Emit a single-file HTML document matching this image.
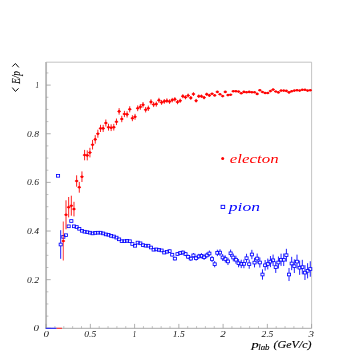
<!DOCTYPE html>
<html><head><meta charset="utf-8"><title>E/p</title>
<style>
html,body{margin:0;padding:0;background:#fff;}
svg{display:block;font-family:"Liberation Serif",serif;font-style:italic;}
</style></head>
<body>
<svg width="354" height="354" viewBox="0 0 354 354">
<rect width="354" height="354" fill="#fff"/>
<g opacity="0.99">
<!-- frame -->
<path d="M46.1 62.2H311.6V328.3" fill="none" stroke="#b4b4b4" stroke-width="0.8"/>
<path d="M46.1 328.3H311.6" fill="none" stroke="#a8a8a8" stroke-width="1"/>
<path d="M46.1 61.900000000000006V328.7" fill="none" stroke="#b8b8b8" stroke-width="1.9"/>
<path d="M46.10 328.30h4.6" stroke="#9a9a9a" stroke-width="0.8"/>
<path d="M46.10 316.14h2.3" stroke="#9a9a9a" stroke-width="0.6"/>
<path d="M46.10 303.98h2.3" stroke="#9a9a9a" stroke-width="0.6"/>
<path d="M46.10 291.82h2.3" stroke="#9a9a9a" stroke-width="0.6"/>
<path d="M46.10 279.66h4.6" stroke="#9a9a9a" stroke-width="0.8"/>
<path d="M46.10 267.50h2.3" stroke="#9a9a9a" stroke-width="0.6"/>
<path d="M46.10 255.34h2.3" stroke="#9a9a9a" stroke-width="0.6"/>
<path d="M46.10 243.18h2.3" stroke="#9a9a9a" stroke-width="0.6"/>
<path d="M46.10 231.02h4.6" stroke="#9a9a9a" stroke-width="0.8"/>
<path d="M46.10 218.86h2.3" stroke="#9a9a9a" stroke-width="0.6"/>
<path d="M46.10 206.70h2.3" stroke="#9a9a9a" stroke-width="0.6"/>
<path d="M46.10 194.54h2.3" stroke="#9a9a9a" stroke-width="0.6"/>
<path d="M46.10 182.38h4.6" stroke="#9a9a9a" stroke-width="0.8"/>
<path d="M46.10 170.22h2.3" stroke="#9a9a9a" stroke-width="0.6"/>
<path d="M46.10 158.06h2.3" stroke="#9a9a9a" stroke-width="0.6"/>
<path d="M46.10 145.90h2.3" stroke="#9a9a9a" stroke-width="0.6"/>
<path d="M46.10 133.74h4.6" stroke="#9a9a9a" stroke-width="0.8"/>
<path d="M46.10 121.58h2.3" stroke="#9a9a9a" stroke-width="0.6"/>
<path d="M46.10 109.42h2.3" stroke="#9a9a9a" stroke-width="0.6"/>
<path d="M46.10 97.26h2.3" stroke="#9a9a9a" stroke-width="0.6"/>
<path d="M46.10 85.10h4.6" stroke="#9a9a9a" stroke-width="0.8"/>
<path d="M46.10 72.94h2.3" stroke="#9a9a9a" stroke-width="0.6"/>
<path d="M46.10 328.30v-4.4" stroke="#9a9a9a" stroke-width="0.8"/>
<path d="M54.95 328.30v-2.2" stroke="#9a9a9a" stroke-width="0.6"/>
<path d="M63.80 328.30v-2.2" stroke="#9a9a9a" stroke-width="0.6"/>
<path d="M72.65 328.30v-2.2" stroke="#9a9a9a" stroke-width="0.6"/>
<path d="M81.50 328.30v-2.2" stroke="#9a9a9a" stroke-width="0.6"/>
<path d="M90.35 328.30v-4.4" stroke="#9a9a9a" stroke-width="0.8"/>
<path d="M99.20 328.30v-2.2" stroke="#9a9a9a" stroke-width="0.6"/>
<path d="M108.05 328.30v-2.2" stroke="#9a9a9a" stroke-width="0.6"/>
<path d="M116.90 328.30v-2.2" stroke="#9a9a9a" stroke-width="0.6"/>
<path d="M125.75 328.30v-2.2" stroke="#9a9a9a" stroke-width="0.6"/>
<path d="M134.60 328.30v-4.4" stroke="#9a9a9a" stroke-width="0.8"/>
<path d="M143.45 328.30v-2.2" stroke="#9a9a9a" stroke-width="0.6"/>
<path d="M152.30 328.30v-2.2" stroke="#9a9a9a" stroke-width="0.6"/>
<path d="M161.15 328.30v-2.2" stroke="#9a9a9a" stroke-width="0.6"/>
<path d="M170.00 328.30v-2.2" stroke="#9a9a9a" stroke-width="0.6"/>
<path d="M178.85 328.30v-4.4" stroke="#9a9a9a" stroke-width="0.8"/>
<path d="M187.70 328.30v-2.2" stroke="#9a9a9a" stroke-width="0.6"/>
<path d="M196.55 328.30v-2.2" stroke="#9a9a9a" stroke-width="0.6"/>
<path d="M205.40 328.30v-2.2" stroke="#9a9a9a" stroke-width="0.6"/>
<path d="M214.25 328.30v-2.2" stroke="#9a9a9a" stroke-width="0.6"/>
<path d="M223.10 328.30v-4.4" stroke="#9a9a9a" stroke-width="0.8"/>
<path d="M231.95 328.30v-2.2" stroke="#9a9a9a" stroke-width="0.6"/>
<path d="M240.80 328.30v-2.2" stroke="#9a9a9a" stroke-width="0.6"/>
<path d="M249.65 328.30v-2.2" stroke="#9a9a9a" stroke-width="0.6"/>
<path d="M258.50 328.30v-2.2" stroke="#9a9a9a" stroke-width="0.6"/>
<path d="M267.35 328.30v-4.4" stroke="#9a9a9a" stroke-width="0.8"/>
<path d="M276.20 328.30v-2.2" stroke="#9a9a9a" stroke-width="0.6"/>
<path d="M285.05 328.30v-2.2" stroke="#9a9a9a" stroke-width="0.6"/>
<path d="M293.90 328.30v-2.2" stroke="#9a9a9a" stroke-width="0.6"/>
<path d="M302.75 328.30v-2.2" stroke="#9a9a9a" stroke-width="0.6"/>
<path d="M311.60 328.30v-4.4" stroke="#9a9a9a" stroke-width="0.8"/>
<path d="M45.7 328.3H56.6" stroke="#2222ff" stroke-width="1.1"/>
<path d="M56.6 328.3H62" stroke="#ff3030" stroke-width="1.1"/>
<text x="33.5" y="331.3" font-size="7.6" text-anchor="start" fill="#111" textLength="5.5" lengthAdjust="spacingAndGlyphs" >0</text>
<text x="27.0" y="282.7" font-size="7.6" text-anchor="start" fill="#111" textLength="12" lengthAdjust="spacingAndGlyphs" >0.2</text>
<text x="27.0" y="234.0" font-size="7.6" text-anchor="start" fill="#111" textLength="12" lengthAdjust="spacingAndGlyphs" >0.4</text>
<text x="27.0" y="185.4" font-size="7.6" text-anchor="start" fill="#111" textLength="12" lengthAdjust="spacingAndGlyphs" >0.6</text>
<text x="27.0" y="136.7" font-size="7.6" text-anchor="start" fill="#111" textLength="12" lengthAdjust="spacingAndGlyphs" >0.8</text>
<text x="35.5" y="88.1" font-size="7.6" text-anchor="start" fill="#111" textLength="3.5" lengthAdjust="spacingAndGlyphs" >1</text>
<text x="43.4" y="336.6" font-size="7.6" text-anchor="start" fill="#111" textLength="5.5" lengthAdjust="spacingAndGlyphs" >0</text>
<text x="84.3" y="336.6" font-size="7.6" text-anchor="start" fill="#111" textLength="12" lengthAdjust="spacingAndGlyphs" >0.5</text>
<text x="132.8" y="336.6" font-size="7.6" text-anchor="start" fill="#111" textLength="3.5" lengthAdjust="spacingAndGlyphs" >1</text>
<text x="172.8" y="336.6" font-size="7.6" text-anchor="start" fill="#111" textLength="12" lengthAdjust="spacingAndGlyphs" >1.5</text>
<text x="220.3" y="336.6" font-size="7.6" text-anchor="start" fill="#111" textLength="5.5" lengthAdjust="spacingAndGlyphs" >2</text>
<text x="261.4" y="336.6" font-size="7.6" text-anchor="start" fill="#111" textLength="12" lengthAdjust="spacingAndGlyphs" >2.5</text>
<text x="308.4" y="336.6" font-size="7.6" text-anchor="start" fill="#111" textLength="5.5" lengthAdjust="spacingAndGlyphs" >3</text>
<!-- titles -->
<text style="filter:grayscale(1)" transform="translate(19.6,84) rotate(-90)" font-size="11.7" fill="#000" stroke="#000" stroke-width="0.1" textLength="13" lengthAdjust="spacingAndGlyphs">E/p</text>
<path d="M12.3 66.6L15.4 63.5L18.8 67.4" fill="none" stroke="#000" stroke-width="1.0"/>
<path d="M12.3 87.6L15.4 91.4L18.6 88.4" fill="none" stroke="#000" stroke-width="1.0"/>
<text x="251.5" y="348.4" font-size="10.5" fill="#000" stroke="#000" stroke-width="0.15" textLength="7.2" lengthAdjust="spacingAndGlyphs">p</text>
<text x="258.2" y="350.4" font-size="7.2" fill="#000" stroke="#000" stroke-width="0.12" textLength="11.3" lengthAdjust="spacingAndGlyphs">lab</text>
<text x="273.6" y="348.4" font-size="10.5" fill="#000" stroke="#000" stroke-width="0.15" textLength="38" lengthAdjust="spacingAndGlyphs">(GeV/c)</text>
<!-- data -->
<rect x="56.50" y="174.45" width="3.10" height="2.70" fill="none" stroke="#0000ff" stroke-width="0.85"/>
<path d="M60.70 230.20V243.15M60.70 245.85V258.80" stroke="#0000ff" stroke-width="0.9" fill="none"/>
<rect x="59.15" y="243.15" width="3.10" height="2.70" fill="none" stroke="#0000ff" stroke-width="0.85"/>
<rect x="61.81" y="235.55" width="3.10" height="2.70" fill="none" stroke="#0000ff" stroke-width="0.85"/>
<rect x="64.46" y="233.85" width="3.10" height="2.70" fill="none" stroke="#0000ff" stroke-width="0.85"/>
<rect x="67.12" y="224.95" width="3.10" height="2.70" fill="none" stroke="#0000ff" stroke-width="0.85"/>
<rect x="69.77" y="219.65" width="3.10" height="2.70" fill="none" stroke="#0000ff" stroke-width="0.85"/>
<rect x="72.43" y="224.95" width="3.10" height="2.70" fill="none" stroke="#0000ff" stroke-width="0.85"/>
<rect x="75.08" y="225.65" width="3.10" height="2.70" fill="none" stroke="#0000ff" stroke-width="0.85"/>
<rect x="77.74" y="227.45" width="3.10" height="2.70" fill="none" stroke="#0000ff" stroke-width="0.85"/>
<rect x="80.39" y="229.45" width="3.10" height="2.70" fill="none" stroke="#0000ff" stroke-width="0.85"/>
<rect x="83.05" y="230.35" width="3.10" height="2.70" fill="none" stroke="#0000ff" stroke-width="0.85"/>
<rect x="85.70" y="230.85" width="3.10" height="2.70" fill="none" stroke="#0000ff" stroke-width="0.85"/>
<rect x="88.36" y="231.35" width="3.10" height="2.70" fill="none" stroke="#0000ff" stroke-width="0.85"/>
<rect x="91.01" y="232.05" width="3.10" height="2.70" fill="none" stroke="#0000ff" stroke-width="0.85"/>
<rect x="93.67" y="231.55" width="3.10" height="2.70" fill="none" stroke="#0000ff" stroke-width="0.85"/>
<rect x="96.32" y="231.35" width="3.10" height="2.70" fill="none" stroke="#0000ff" stroke-width="0.85"/>
<rect x="98.98" y="231.35" width="3.10" height="2.70" fill="none" stroke="#0000ff" stroke-width="0.85"/>
<rect x="101.63" y="232.05" width="3.10" height="2.70" fill="none" stroke="#0000ff" stroke-width="0.85"/>
<rect x="104.29" y="233.05" width="3.10" height="2.70" fill="none" stroke="#0000ff" stroke-width="0.85"/>
<rect x="106.94" y="233.45" width="3.10" height="2.70" fill="none" stroke="#0000ff" stroke-width="0.85"/>
<rect x="109.60" y="234.55" width="3.10" height="2.70" fill="none" stroke="#0000ff" stroke-width="0.85"/>
<rect x="112.25" y="235.15" width="3.10" height="2.70" fill="none" stroke="#0000ff" stroke-width="0.85"/>
<rect x="114.91" y="236.25" width="3.10" height="2.70" fill="none" stroke="#0000ff" stroke-width="0.85"/>
<rect x="117.56" y="237.95" width="3.10" height="2.70" fill="none" stroke="#0000ff" stroke-width="0.85"/>
<rect x="120.22" y="239.85" width="3.10" height="2.70" fill="none" stroke="#0000ff" stroke-width="0.85"/>
<rect x="122.87" y="239.85" width="3.10" height="2.70" fill="none" stroke="#0000ff" stroke-width="0.85"/>
<rect x="125.53" y="239.55" width="3.10" height="2.70" fill="none" stroke="#0000ff" stroke-width="0.85"/>
<rect x="128.18" y="239.85" width="3.10" height="2.70" fill="none" stroke="#0000ff" stroke-width="0.85"/>
<rect x="130.84" y="242.65" width="3.10" height="2.70" fill="none" stroke="#0000ff" stroke-width="0.85"/>
<rect x="133.49" y="244.45" width="3.10" height="2.70" fill="none" stroke="#0000ff" stroke-width="0.85"/>
<rect x="136.15" y="241.25" width="3.10" height="2.70" fill="none" stroke="#0000ff" stroke-width="0.85"/>
<rect x="138.80" y="241.95" width="3.10" height="2.70" fill="none" stroke="#0000ff" stroke-width="0.85"/>
<rect x="141.46" y="243.75" width="3.10" height="2.70" fill="none" stroke="#0000ff" stroke-width="0.85"/>
<rect x="144.11" y="244.35" width="3.10" height="2.70" fill="none" stroke="#0000ff" stroke-width="0.85"/>
<rect x="146.77" y="244.35" width="3.10" height="2.70" fill="none" stroke="#0000ff" stroke-width="0.85"/>
<rect x="149.42" y="246.15" width="3.10" height="2.70" fill="none" stroke="#0000ff" stroke-width="0.85"/>
<rect x="152.08" y="248.35" width="3.10" height="2.70" fill="none" stroke="#0000ff" stroke-width="0.85"/>
<rect x="154.73" y="248.05" width="3.10" height="2.70" fill="none" stroke="#0000ff" stroke-width="0.85"/>
<rect x="157.39" y="248.55" width="3.10" height="2.70" fill="none" stroke="#0000ff" stroke-width="0.85"/>
<rect x="160.04" y="249.05" width="3.10" height="2.70" fill="none" stroke="#0000ff" stroke-width="0.85"/>
<rect x="162.70" y="251.25" width="3.10" height="2.70" fill="none" stroke="#0000ff" stroke-width="0.85"/>
<rect x="165.35" y="250.45" width="3.10" height="2.70" fill="none" stroke="#0000ff" stroke-width="0.85"/>
<path d="M169.56 249.43V249.75M169.56 252.45V252.77" stroke="#0000ff" stroke-width="0.9" fill="none"/>
<rect x="168.01" y="249.75" width="3.10" height="2.70" fill="none" stroke="#0000ff" stroke-width="0.85"/>
<path d="M172.21 252.95V253.35M172.21 256.05V256.45" stroke="#0000ff" stroke-width="0.9" fill="none"/>
<rect x="170.66" y="253.35" width="3.10" height="2.70" fill="none" stroke="#0000ff" stroke-width="0.85"/>
<path d="M174.87 256.78V257.25M174.87 259.95V260.42" stroke="#0000ff" stroke-width="0.9" fill="none"/>
<rect x="173.32" y="257.25" width="3.10" height="2.70" fill="none" stroke="#0000ff" stroke-width="0.85"/>
<path d="M177.52 252.10V252.65M177.52 255.35V255.90" stroke="#0000ff" stroke-width="0.9" fill="none"/>
<rect x="175.97" y="252.65" width="3.10" height="2.70" fill="none" stroke="#0000ff" stroke-width="0.85"/>
<path d="M180.18 251.03V251.65M180.18 254.35V254.97" stroke="#0000ff" stroke-width="0.9" fill="none"/>
<rect x="178.63" y="251.65" width="3.10" height="2.70" fill="none" stroke="#0000ff" stroke-width="0.85"/>
<path d="M182.83 250.45V251.15M182.83 253.85V254.55" stroke="#0000ff" stroke-width="0.9" fill="none"/>
<rect x="181.28" y="251.15" width="3.10" height="2.70" fill="none" stroke="#0000ff" stroke-width="0.85"/>
<path d="M185.49 251.86V252.65M185.49 255.35V256.14" stroke="#0000ff" stroke-width="0.9" fill="none"/>
<rect x="183.94" y="252.65" width="3.10" height="2.70" fill="none" stroke="#0000ff" stroke-width="0.85"/>
<path d="M188.14 254.58V255.45M188.14 258.15V259.02" stroke="#0000ff" stroke-width="0.9" fill="none"/>
<rect x="186.59" y="255.45" width="3.10" height="2.70" fill="none" stroke="#0000ff" stroke-width="0.85"/>
<path d="M190.80 256.30V257.25M190.80 259.95V260.90" stroke="#0000ff" stroke-width="0.9" fill="none"/>
<rect x="189.25" y="257.25" width="3.10" height="2.70" fill="none" stroke="#0000ff" stroke-width="0.85"/>
<path d="M193.45 253.01V254.05M193.45 256.75V257.79" stroke="#0000ff" stroke-width="0.9" fill="none"/>
<rect x="191.90" y="254.05" width="3.10" height="2.70" fill="none" stroke="#0000ff" stroke-width="0.85"/>
<path d="M196.11 255.72V256.85M196.11 259.55V260.68" stroke="#0000ff" stroke-width="0.9" fill="none"/>
<rect x="194.56" y="256.85" width="3.10" height="2.70" fill="none" stroke="#0000ff" stroke-width="0.85"/>
<path d="M198.76 253.83V255.05M198.76 257.75V258.97" stroke="#0000ff" stroke-width="0.9" fill="none"/>
<rect x="197.21" y="255.05" width="3.10" height="2.70" fill="none" stroke="#0000ff" stroke-width="0.85"/>
<path d="M201.42 253.14V254.45M201.42 257.15V258.46" stroke="#0000ff" stroke-width="0.9" fill="none"/>
<rect x="199.87" y="254.45" width="3.10" height="2.70" fill="none" stroke="#0000ff" stroke-width="0.85"/>
<path d="M204.07 254.45V255.85M204.07 258.55V259.95" stroke="#0000ff" stroke-width="0.9" fill="none"/>
<rect x="202.52" y="255.85" width="3.10" height="2.70" fill="none" stroke="#0000ff" stroke-width="0.85"/>
<path d="M206.73 252.56V254.05M206.73 256.75V258.24" stroke="#0000ff" stroke-width="0.9" fill="none"/>
<rect x="205.18" y="254.05" width="3.10" height="2.70" fill="none" stroke="#0000ff" stroke-width="0.85"/>
<path d="M209.38 250.56V252.15M209.38 254.85V256.44" stroke="#0000ff" stroke-width="0.9" fill="none"/>
<rect x="207.83" y="252.15" width="3.10" height="2.70" fill="none" stroke="#0000ff" stroke-width="0.85"/>
<path d="M212.04 255.96V257.65M212.04 260.35V262.04" stroke="#0000ff" stroke-width="0.9" fill="none"/>
<rect x="210.49" y="257.65" width="3.10" height="2.70" fill="none" stroke="#0000ff" stroke-width="0.85"/>
<path d="M214.69 261.06V262.85M214.69 265.55V267.34" stroke="#0000ff" stroke-width="0.9" fill="none"/>
<rect x="213.14" y="262.85" width="3.10" height="2.70" fill="none" stroke="#0000ff" stroke-width="0.85"/>
<path d="M217.35 249.66V251.55M217.35 254.25V256.14" stroke="#0000ff" stroke-width="0.9" fill="none"/>
<rect x="215.80" y="251.55" width="3.10" height="2.70" fill="none" stroke="#0000ff" stroke-width="0.85"/>
<path d="M220.00 249.26V251.25M220.00 253.95V255.94" stroke="#0000ff" stroke-width="0.9" fill="none"/>
<rect x="218.45" y="251.25" width="3.10" height="2.70" fill="none" stroke="#0000ff" stroke-width="0.85"/>
<path d="M222.66 254.06V256.15M222.66 258.85V260.94" stroke="#0000ff" stroke-width="0.9" fill="none"/>
<rect x="221.11" y="256.15" width="3.10" height="2.70" fill="none" stroke="#0000ff" stroke-width="0.85"/>
<path d="M225.31 255.45V257.65M225.31 260.35V262.55" stroke="#0000ff" stroke-width="0.9" fill="none"/>
<rect x="223.76" y="257.65" width="3.10" height="2.70" fill="none" stroke="#0000ff" stroke-width="0.85"/>
<path d="M227.97 257.75V260.05M227.97 262.75V265.05" stroke="#0000ff" stroke-width="0.9" fill="none"/>
<rect x="226.42" y="260.05" width="3.10" height="2.70" fill="none" stroke="#0000ff" stroke-width="0.85"/>
<path d="M230.62 249.54V251.95M230.62 254.65V257.06" stroke="#0000ff" stroke-width="0.9" fill="none"/>
<rect x="229.07" y="251.95" width="3.10" height="2.70" fill="none" stroke="#0000ff" stroke-width="0.85"/>
<path d="M233.28 253.63V256.15M233.28 258.85V261.37" stroke="#0000ff" stroke-width="0.9" fill="none"/>
<rect x="231.73" y="256.15" width="3.10" height="2.70" fill="none" stroke="#0000ff" stroke-width="0.85"/>
<path d="M235.93 255.72V258.35M235.93 261.05V263.68" stroke="#0000ff" stroke-width="0.9" fill="none"/>
<rect x="234.38" y="258.35" width="3.10" height="2.70" fill="none" stroke="#0000ff" stroke-width="0.85"/>
<path d="M238.59 259.10V261.85M238.59 264.55V267.30" stroke="#0000ff" stroke-width="0.9" fill="none"/>
<rect x="237.04" y="261.85" width="3.10" height="2.70" fill="none" stroke="#0000ff" stroke-width="0.85"/>
<path d="M241.24 259.69V262.55M241.24 265.25V268.11" stroke="#0000ff" stroke-width="0.9" fill="none"/>
<rect x="239.69" y="262.55" width="3.10" height="2.70" fill="none" stroke="#0000ff" stroke-width="0.85"/>
<path d="M243.90 259.57V262.55M243.90 265.25V268.23" stroke="#0000ff" stroke-width="0.9" fill="none"/>
<rect x="242.35" y="262.55" width="3.10" height="2.70" fill="none" stroke="#0000ff" stroke-width="0.85"/>
<path d="M246.55 253.76V256.85M246.55 259.55V262.64" stroke="#0000ff" stroke-width="0.9" fill="none"/>
<rect x="245.00" y="256.85" width="3.10" height="2.70" fill="none" stroke="#0000ff" stroke-width="0.85"/>
<path d="M249.21 259.64V262.85M249.21 265.55V268.76" stroke="#0000ff" stroke-width="0.9" fill="none"/>
<rect x="247.66" y="262.85" width="3.10" height="2.70" fill="none" stroke="#0000ff" stroke-width="0.85"/>
<path d="M251.86 249.82V253.15M251.86 255.85V259.18" stroke="#0000ff" stroke-width="0.9" fill="none"/>
<rect x="250.31" y="253.15" width="3.10" height="2.70" fill="none" stroke="#0000ff" stroke-width="0.85"/>
<path d="M254.52 257.79V261.25M254.52 263.95V267.41" stroke="#0000ff" stroke-width="0.9" fill="none"/>
<rect x="252.97" y="261.25" width="3.10" height="2.70" fill="none" stroke="#0000ff" stroke-width="0.85"/>
<path d="M257.17 253.57V257.15M257.17 259.85V263.43" stroke="#0000ff" stroke-width="0.9" fill="none"/>
<rect x="255.62" y="257.15" width="3.10" height="2.70" fill="none" stroke="#0000ff" stroke-width="0.85"/>
<path d="M259.83 257.44V261.15M259.83 263.85V267.56" stroke="#0000ff" stroke-width="0.9" fill="none"/>
<rect x="258.28" y="261.15" width="3.10" height="2.70" fill="none" stroke="#0000ff" stroke-width="0.85"/>
<path d="M262.48 269.32V273.15M262.48 275.85V279.68" stroke="#0000ff" stroke-width="0.9" fill="none"/>
<rect x="260.93" y="273.15" width="3.10" height="2.70" fill="none" stroke="#0000ff" stroke-width="0.85"/>
<path d="M265.14 259.99V263.95M265.14 266.65V270.61" stroke="#0000ff" stroke-width="0.9" fill="none"/>
<rect x="263.59" y="263.95" width="3.10" height="2.70" fill="none" stroke="#0000ff" stroke-width="0.85"/>
<path d="M267.79 258.56V262.65M267.79 265.35V269.44" stroke="#0000ff" stroke-width="0.9" fill="none"/>
<rect x="266.24" y="262.65" width="3.10" height="2.70" fill="none" stroke="#0000ff" stroke-width="0.85"/>
<path d="M270.45 256.03V260.25M270.45 262.95V267.17" stroke="#0000ff" stroke-width="0.9" fill="none"/>
<rect x="268.90" y="260.25" width="3.10" height="2.70" fill="none" stroke="#0000ff" stroke-width="0.85"/>
<path d="M273.10 254.59V258.95M273.10 261.65V266.01" stroke="#0000ff" stroke-width="0.9" fill="none"/>
<rect x="271.55" y="258.95" width="3.10" height="2.70" fill="none" stroke="#0000ff" stroke-width="0.85"/>
<path d="M275.76 261.26V265.75M275.76 268.45V272.94" stroke="#0000ff" stroke-width="0.9" fill="none"/>
<rect x="274.21" y="265.75" width="3.10" height="2.70" fill="none" stroke="#0000ff" stroke-width="0.85"/>
<path d="M278.41 256.52V261.15M278.41 263.85V268.48" stroke="#0000ff" stroke-width="0.9" fill="none"/>
<rect x="276.86" y="261.15" width="3.10" height="2.70" fill="none" stroke="#0000ff" stroke-width="0.85"/>
<path d="M281.07 253.68V258.45M281.07 261.15V265.92" stroke="#0000ff" stroke-width="0.9" fill="none"/>
<rect x="279.52" y="258.45" width="3.10" height="2.70" fill="none" stroke="#0000ff" stroke-width="0.85"/>
<path d="M283.72 253.54V258.45M283.72 261.15V266.06" stroke="#0000ff" stroke-width="0.9" fill="none"/>
<rect x="282.17" y="258.45" width="3.10" height="2.70" fill="none" stroke="#0000ff" stroke-width="0.85"/>
<path d="M286.38 248.80V253.85M286.38 256.55V261.60" stroke="#0000ff" stroke-width="0.9" fill="none"/>
<rect x="284.83" y="253.85" width="3.10" height="2.70" fill="none" stroke="#0000ff" stroke-width="0.85"/>
<path d="M289.03 267.96V273.15M289.03 275.85V281.04" stroke="#0000ff" stroke-width="0.9" fill="none"/>
<rect x="287.48" y="273.15" width="3.10" height="2.70" fill="none" stroke="#0000ff" stroke-width="0.85"/>
<path d="M291.69 256.81V262.15M291.69 264.85V270.19" stroke="#0000ff" stroke-width="0.9" fill="none"/>
<rect x="290.14" y="262.15" width="3.10" height="2.70" fill="none" stroke="#0000ff" stroke-width="0.85"/>
<path d="M294.34 259.37V264.85M294.34 267.55V273.03" stroke="#0000ff" stroke-width="0.9" fill="none"/>
<rect x="292.79" y="264.85" width="3.10" height="2.70" fill="none" stroke="#0000ff" stroke-width="0.85"/>
<path d="M297.00 254.62V260.25M297.00 262.95V268.58" stroke="#0000ff" stroke-width="0.9" fill="none"/>
<rect x="295.45" y="260.25" width="3.10" height="2.70" fill="none" stroke="#0000ff" stroke-width="0.85"/>
<path d="M299.65 260.57V266.35M299.65 269.05V274.83" stroke="#0000ff" stroke-width="0.9" fill="none"/>
<rect x="298.10" y="266.35" width="3.10" height="2.70" fill="none" stroke="#0000ff" stroke-width="0.85"/>
<path d="M302.31 259.82V265.75M302.31 268.45V274.38" stroke="#0000ff" stroke-width="0.9" fill="none"/>
<rect x="300.76" y="265.75" width="3.10" height="2.70" fill="none" stroke="#0000ff" stroke-width="0.85"/>
<path d="M304.96 265.17V271.25M304.96 273.95V280.03" stroke="#0000ff" stroke-width="0.9" fill="none"/>
<rect x="303.41" y="271.25" width="3.10" height="2.70" fill="none" stroke="#0000ff" stroke-width="0.85"/>
<path d="M307.62 263.21V269.45M307.62 272.15V278.39" stroke="#0000ff" stroke-width="0.9" fill="none"/>
<rect x="306.07" y="269.45" width="3.10" height="2.70" fill="none" stroke="#0000ff" stroke-width="0.85"/>
<path d="M310.27 261.26V267.65M310.27 270.35V276.74" stroke="#0000ff" stroke-width="0.9" fill="none"/>
<rect x="308.72" y="267.65" width="3.10" height="2.70" fill="none" stroke="#0000ff" stroke-width="0.85"/>
<path d="M63.36 221.50V260.50" stroke="#ff0000" stroke-width="1.3" opacity="0.6" fill="none"/>
<path d="M61.61 241.00H65.11" stroke="#ff0000" stroke-width="0.9"/>
<circle cx="63.36" cy="241.00" r="1.3" fill="#ff0000"/>
<path d="M66.01 200.30V229.30" stroke="#ff0000" stroke-width="0.9" fill="none"/>
<path d="M64.26 214.80H67.76" stroke="#ff0000" stroke-width="0.9"/>
<circle cx="66.01" cy="214.80" r="1.3" fill="#ff0000"/>
<path d="M68.67 197.00V217.40" stroke="#ff0000" stroke-width="0.9" fill="none"/>
<path d="M66.92 207.20H70.42" stroke="#ff0000" stroke-width="0.9"/>
<circle cx="68.67" cy="207.20" r="1.3" fill="#ff0000"/>
<path d="M71.32 195.70V215.70" stroke="#ff0000" stroke-width="0.9" fill="none"/>
<path d="M69.57 205.70H73.07" stroke="#ff0000" stroke-width="0.9"/>
<circle cx="71.32" cy="205.70" r="1.3" fill="#ff0000"/>
<path d="M73.98 201.80V216.40" stroke="#ff0000" stroke-width="0.9" fill="none"/>
<path d="M72.23 209.10H75.73" stroke="#ff0000" stroke-width="0.9"/>
<circle cx="73.98" cy="209.10" r="1.3" fill="#ff0000"/>
<path d="M76.63 175.30V186.70" stroke="#ff0000" stroke-width="0.9" fill="none"/>
<path d="M74.88 181.00H78.38" stroke="#ff0000" stroke-width="0.9"/>
<circle cx="76.63" cy="181.00" r="1.3" fill="#ff0000"/>
<path d="M79.29 181.90V192.70" stroke="#ff0000" stroke-width="0.9" fill="none"/>
<path d="M77.54 187.30H81.04" stroke="#ff0000" stroke-width="0.9"/>
<circle cx="79.29" cy="187.30" r="1.3" fill="#ff0000"/>
<path d="M81.94 171.40V182.00" stroke="#ff0000" stroke-width="0.9" fill="none"/>
<path d="M80.19 176.70H83.69" stroke="#ff0000" stroke-width="0.9"/>
<circle cx="81.94" cy="176.70" r="1.3" fill="#ff0000"/>
<path d="M84.60 149.90V160.30" stroke="#ff0000" stroke-width="0.9" fill="none"/>
<path d="M82.85 155.10H86.35" stroke="#ff0000" stroke-width="0.9"/>
<circle cx="84.60" cy="155.10" r="1.3" fill="#ff0000"/>
<path d="M87.25 150.40V160.40" stroke="#ff0000" stroke-width="0.9" fill="none"/>
<path d="M85.50 155.40H89.00" stroke="#ff0000" stroke-width="0.9"/>
<circle cx="87.25" cy="155.40" r="1.3" fill="#ff0000"/>
<path d="M89.91 147.80V157.40" stroke="#ff0000" stroke-width="0.9" fill="none"/>
<path d="M88.16 152.60H91.66" stroke="#ff0000" stroke-width="0.9"/>
<circle cx="89.91" cy="152.60" r="1.3" fill="#ff0000"/>
<path d="M92.56 139.90V149.50" stroke="#ff0000" stroke-width="0.9" fill="none"/>
<path d="M90.81 144.70H94.31" stroke="#ff0000" stroke-width="0.9"/>
<circle cx="92.56" cy="144.70" r="1.3" fill="#ff0000"/>
<path d="M95.22 135.10V143.70" stroke="#ff0000" stroke-width="0.9" fill="none"/>
<path d="M93.47 139.40H96.97" stroke="#ff0000" stroke-width="0.9"/>
<circle cx="95.22" cy="139.40" r="1.3" fill="#ff0000"/>
<path d="M97.87 129.70V137.70" stroke="#ff0000" stroke-width="0.9" fill="none"/>
<path d="M96.12 133.70H99.62" stroke="#ff0000" stroke-width="0.9"/>
<circle cx="97.87" cy="133.70" r="1.3" fill="#ff0000"/>
<path d="M100.53 124.80V132.00" stroke="#ff0000" stroke-width="0.9" fill="none"/>
<path d="M98.78 128.40H102.28" stroke="#ff0000" stroke-width="0.9"/>
<circle cx="100.53" cy="128.40" r="1.3" fill="#ff0000"/>
<path d="M103.18 124.85V131.95" stroke="#ff0000" stroke-width="0.9" fill="none"/>
<path d="M101.43 128.40H104.93" stroke="#ff0000" stroke-width="0.9"/>
<circle cx="103.18" cy="128.40" r="1.3" fill="#ff0000"/>
<path d="M105.84 119.50V126.50" stroke="#ff0000" stroke-width="0.9" fill="none"/>
<path d="M104.09 123.00H107.59" stroke="#ff0000" stroke-width="0.9"/>
<circle cx="105.84" cy="123.00" r="1.3" fill="#ff0000"/>
<path d="M108.49 123.75V130.65" stroke="#ff0000" stroke-width="0.9" fill="none"/>
<path d="M106.74 127.20H110.24" stroke="#ff0000" stroke-width="0.9"/>
<circle cx="108.49" cy="127.20" r="1.3" fill="#ff0000"/>
<path d="M111.15 124.30V131.10" stroke="#ff0000" stroke-width="0.9" fill="none"/>
<path d="M109.40 127.70H112.90" stroke="#ff0000" stroke-width="0.9"/>
<circle cx="111.15" cy="127.70" r="1.3" fill="#ff0000"/>
<path d="M113.80 123.85V130.55" stroke="#ff0000" stroke-width="0.9" fill="none"/>
<path d="M112.05 127.20H115.55" stroke="#ff0000" stroke-width="0.9"/>
<circle cx="113.80" cy="127.20" r="1.3" fill="#ff0000"/>
<path d="M116.46 118.50V125.10" stroke="#ff0000" stroke-width="0.9" fill="none"/>
<path d="M114.71 121.80H118.21" stroke="#ff0000" stroke-width="0.9"/>
<circle cx="116.46" cy="121.80" r="1.3" fill="#ff0000"/>
<path d="M119.11 108.15V114.65" stroke="#ff0000" stroke-width="0.9" fill="none"/>
<path d="M117.36 111.40H120.86" stroke="#ff0000" stroke-width="0.9"/>
<circle cx="119.11" cy="111.40" r="1.3" fill="#ff0000"/>
<path d="M121.77 115.80V122.20" stroke="#ff0000" stroke-width="0.9" fill="none"/>
<path d="M120.02 119.00H123.52" stroke="#ff0000" stroke-width="0.9"/>
<circle cx="121.77" cy="119.00" r="1.3" fill="#ff0000"/>
<path d="M124.42 110.85V117.15" stroke="#ff0000" stroke-width="0.9" fill="none"/>
<path d="M122.67 114.00H126.17" stroke="#ff0000" stroke-width="0.9"/>
<circle cx="124.42" cy="114.00" r="1.3" fill="#ff0000"/>
<path d="M127.08 111.30V117.50" stroke="#ff0000" stroke-width="0.9" fill="none"/>
<path d="M125.33 114.40H128.83" stroke="#ff0000" stroke-width="0.9"/>
<circle cx="127.08" cy="114.40" r="1.3" fill="#ff0000"/>
<path d="M129.73 106.25V112.35" stroke="#ff0000" stroke-width="0.9" fill="none"/>
<path d="M127.98 109.30H131.48" stroke="#ff0000" stroke-width="0.9"/>
<circle cx="129.73" cy="109.30" r="1.3" fill="#ff0000"/>
<path d="M132.39 115.20V121.20" stroke="#ff0000" stroke-width="0.9" fill="none"/>
<path d="M130.64 118.20H134.14" stroke="#ff0000" stroke-width="0.9"/>
<circle cx="132.39" cy="118.20" r="1.3" fill="#ff0000"/>
<path d="M135.04 113.85V119.75" stroke="#ff0000" stroke-width="0.9" fill="none"/>
<path d="M133.29 116.80H136.79" stroke="#ff0000" stroke-width="0.9"/>
<circle cx="135.04" cy="116.80" r="1.3" fill="#ff0000"/>
<path d="M137.70 105.40V111.20" stroke="#ff0000" stroke-width="0.9" fill="none"/>
<path d="M135.95 108.30H139.45" stroke="#ff0000" stroke-width="0.9"/>
<circle cx="137.70" cy="108.30" r="1.3" fill="#ff0000"/>
<path d="M140.35 104.05V109.75" stroke="#ff0000" stroke-width="0.9" fill="none"/>
<path d="M138.60 106.90H142.10" stroke="#ff0000" stroke-width="0.9"/>
<circle cx="140.35" cy="106.90" r="1.3" fill="#ff0000"/>
<path d="M143.01 102.00V107.60" stroke="#ff0000" stroke-width="0.9" fill="none"/>
<path d="M141.26 104.80H144.76" stroke="#ff0000" stroke-width="0.9"/>
<circle cx="143.01" cy="104.80" r="1.3" fill="#ff0000"/>
<path d="M145.66 106.95V112.45" stroke="#ff0000" stroke-width="0.9" fill="none"/>
<path d="M143.91 109.70H147.41" stroke="#ff0000" stroke-width="0.9"/>
<circle cx="145.66" cy="109.70" r="1.3" fill="#ff0000"/>
<path d="M148.32 105.60V111.00" stroke="#ff0000" stroke-width="0.9" fill="none"/>
<path d="M146.57 108.30H150.07" stroke="#ff0000" stroke-width="0.9"/>
<circle cx="148.32" cy="108.30" r="1.3" fill="#ff0000"/>
<path d="M150.97 99.25V104.55" stroke="#ff0000" stroke-width="0.9" fill="none"/>
<path d="M149.22 101.90H152.72" stroke="#ff0000" stroke-width="0.9"/>
<circle cx="150.97" cy="101.90" r="1.3" fill="#ff0000"/>
<path d="M153.63 101.90V107.10" stroke="#ff0000" stroke-width="0.9" fill="none"/>
<path d="M151.88 104.50H155.38" stroke="#ff0000" stroke-width="0.9"/>
<circle cx="153.63" cy="104.50" r="1.3" fill="#ff0000"/>
<path d="M156.28 101.55V106.65" stroke="#ff0000" stroke-width="0.9" fill="none"/>
<path d="M154.53 104.10H158.03" stroke="#ff0000" stroke-width="0.9"/>
<circle cx="156.28" cy="104.10" r="1.3" fill="#ff0000"/>
<path d="M158.94 97.80V102.80" stroke="#ff0000" stroke-width="0.9" fill="none"/>
<path d="M157.19 100.30H160.69" stroke="#ff0000" stroke-width="0.9"/>
<circle cx="158.94" cy="100.30" r="1.3" fill="#ff0000"/>
<path d="M161.59 99.95V104.85" stroke="#ff0000" stroke-width="0.9" fill="none"/>
<path d="M159.84 102.40H163.34" stroke="#ff0000" stroke-width="0.9"/>
<circle cx="161.59" cy="102.40" r="1.3" fill="#ff0000"/>
<path d="M164.25 99.00V103.80" stroke="#ff0000" stroke-width="0.9" fill="none"/>
<path d="M162.50 101.40H166.00" stroke="#ff0000" stroke-width="0.9"/>
<circle cx="164.25" cy="101.40" r="1.3" fill="#ff0000"/>
<path d="M166.90 98.35V103.05" stroke="#ff0000" stroke-width="0.9" fill="none"/>
<path d="M165.15 100.70H168.65" stroke="#ff0000" stroke-width="0.9"/>
<circle cx="166.90" cy="100.70" r="1.3" fill="#ff0000"/>
<path d="M169.56 99.30V103.90" stroke="#ff0000" stroke-width="0.9" fill="none"/>
<path d="M167.81 101.60H171.31" stroke="#ff0000" stroke-width="0.9"/>
<circle cx="169.56" cy="101.60" r="1.3" fill="#ff0000"/>
<path d="M172.21 97.85V102.35" stroke="#ff0000" stroke-width="0.9" fill="none"/>
<path d="M170.46 100.10H173.96" stroke="#ff0000" stroke-width="0.9"/>
<circle cx="172.21" cy="100.10" r="1.3" fill="#ff0000"/>
<path d="M174.87 97.10V101.50" stroke="#ff0000" stroke-width="0.9" fill="none"/>
<path d="M173.12 99.30H176.62" stroke="#ff0000" stroke-width="0.9"/>
<circle cx="174.87" cy="99.30" r="1.3" fill="#ff0000"/>
<path d="M177.52 99.95V104.25" stroke="#ff0000" stroke-width="0.9" fill="none"/>
<path d="M175.77 102.10H179.27" stroke="#ff0000" stroke-width="0.9"/>
<circle cx="177.52" cy="102.10" r="1.3" fill="#ff0000"/>
<path d="M180.18 98.60V102.80" stroke="#ff0000" stroke-width="0.9" fill="none"/>
<path d="M178.43 100.70H181.93" stroke="#ff0000" stroke-width="0.9"/>
<circle cx="180.18" cy="100.70" r="1.3" fill="#ff0000"/>
<path d="M182.83 94.15V98.25" stroke="#ff0000" stroke-width="0.9" fill="none"/>
<path d="M181.08 96.20H184.58" stroke="#ff0000" stroke-width="0.9"/>
<circle cx="182.83" cy="96.20" r="1.3" fill="#ff0000"/>
<path d="M185.49 95.30V99.30" stroke="#ff0000" stroke-width="0.9" fill="none"/>
<path d="M183.74 97.30H187.24" stroke="#ff0000" stroke-width="0.9"/>
<circle cx="185.49" cy="97.30" r="1.3" fill="#ff0000"/>
<path d="M188.14 93.55V97.45" stroke="#ff0000" stroke-width="0.9" fill="none"/>
<path d="M186.39 95.50H189.89" stroke="#ff0000" stroke-width="0.9"/>
<circle cx="188.14" cy="95.50" r="1.3" fill="#ff0000"/>
<path d="M190.80 96.00V99.80" stroke="#ff0000" stroke-width="0.9" fill="none"/>
<path d="M189.05 97.90H192.55" stroke="#ff0000" stroke-width="0.9"/>
<circle cx="190.80" cy="97.90" r="1.3" fill="#ff0000"/>
<path d="M193.45 92.25V95.95" stroke="#ff0000" stroke-width="0.9" fill="none"/>
<path d="M191.70 94.10H195.20" stroke="#ff0000" stroke-width="0.9"/>
<circle cx="193.45" cy="94.10" r="1.3" fill="#ff0000"/>
<path d="M196.11 98.90V102.50" stroke="#ff0000" stroke-width="0.9" fill="none"/>
<path d="M194.36 100.70H197.86" stroke="#ff0000" stroke-width="0.9"/>
<circle cx="196.11" cy="100.70" r="1.3" fill="#ff0000"/>
<path d="M198.76 94.45V97.95" stroke="#ff0000" stroke-width="0.9" fill="none"/>
<path d="M197.01 96.20H200.51" stroke="#ff0000" stroke-width="0.9"/>
<circle cx="198.76" cy="96.20" r="1.3" fill="#ff0000"/>
<path d="M201.42 94.50V97.90" stroke="#ff0000" stroke-width="0.9" fill="none"/>
<path d="M199.67 96.20H203.17" stroke="#ff0000" stroke-width="0.9"/>
<circle cx="201.42" cy="96.20" r="1.3" fill="#ff0000"/>
<path d="M204.07 95.95V99.25" stroke="#ff0000" stroke-width="0.9" fill="none"/>
<path d="M202.32 97.60H205.82" stroke="#ff0000" stroke-width="0.9"/>
<circle cx="204.07" cy="97.60" r="1.3" fill="#ff0000"/>
<path d="M206.73 92.60V95.80" stroke="#ff0000" stroke-width="0.9" fill="none"/>
<path d="M204.98 94.20H208.48" stroke="#ff0000" stroke-width="0.9"/>
<circle cx="206.73" cy="94.20" r="1.3" fill="#ff0000"/>
<path d="M209.38 93.85V96.95" stroke="#ff0000" stroke-width="0.9" fill="none"/>
<path d="M207.63 95.40H211.13" stroke="#ff0000" stroke-width="0.9"/>
<circle cx="209.38" cy="95.40" r="1.3" fill="#ff0000"/>
<path d="M210.29 93.70H213.79" stroke="#ff0000" stroke-width="0.9"/>
<circle cx="212.04" cy="93.70" r="1.3" fill="#ff0000"/>
<path d="M212.94 95.40H216.44" stroke="#ff0000" stroke-width="0.9"/>
<circle cx="214.69" cy="95.40" r="1.3" fill="#ff0000"/>
<path d="M215.60 91.90H219.10" stroke="#ff0000" stroke-width="0.9"/>
<circle cx="217.35" cy="91.90" r="1.3" fill="#ff0000"/>
<path d="M218.25 94.30H221.75" stroke="#ff0000" stroke-width="0.9"/>
<circle cx="220.00" cy="94.30" r="1.3" fill="#ff0000"/>
<path d="M220.91 96.10H224.41" stroke="#ff0000" stroke-width="0.9"/>
<circle cx="222.66" cy="96.10" r="1.3" fill="#ff0000"/>
<path d="M223.56 91.90H227.06" stroke="#ff0000" stroke-width="0.9"/>
<circle cx="225.31" cy="91.90" r="1.3" fill="#ff0000"/>
<path d="M226.22 95.10H229.72" stroke="#ff0000" stroke-width="0.9"/>
<circle cx="227.97" cy="95.10" r="1.3" fill="#ff0000"/>
<path d="M228.87 94.70H232.37" stroke="#ff0000" stroke-width="0.9"/>
<circle cx="230.62" cy="94.70" r="1.3" fill="#ff0000"/>
<path d="M231.53 91.20H235.03" stroke="#ff0000" stroke-width="0.9"/>
<circle cx="233.28" cy="91.20" r="1.3" fill="#ff0000"/>
<path d="M234.18 91.20H237.68" stroke="#ff0000" stroke-width="0.9"/>
<circle cx="235.93" cy="91.20" r="1.3" fill="#ff0000"/>
<path d="M236.84 91.60H240.34" stroke="#ff0000" stroke-width="0.9"/>
<circle cx="238.59" cy="91.60" r="1.3" fill="#ff0000"/>
<path d="M239.49 93.30H242.99" stroke="#ff0000" stroke-width="0.9"/>
<circle cx="241.24" cy="93.30" r="1.3" fill="#ff0000"/>
<path d="M242.15 91.90H245.65" stroke="#ff0000" stroke-width="0.9"/>
<circle cx="243.90" cy="91.90" r="1.3" fill="#ff0000"/>
<path d="M244.80 92.20H248.30" stroke="#ff0000" stroke-width="0.9"/>
<circle cx="246.55" cy="92.20" r="1.3" fill="#ff0000"/>
<path d="M247.46 91.90H250.96" stroke="#ff0000" stroke-width="0.9"/>
<circle cx="249.21" cy="91.90" r="1.3" fill="#ff0000"/>
<path d="M250.11 92.30H253.61" stroke="#ff0000" stroke-width="0.9"/>
<circle cx="251.86" cy="92.30" r="1.3" fill="#ff0000"/>
<path d="M252.77 92.30H256.27" stroke="#ff0000" stroke-width="0.9"/>
<circle cx="254.52" cy="92.30" r="1.3" fill="#ff0000"/>
<path d="M255.42 93.90H258.92" stroke="#ff0000" stroke-width="0.9"/>
<circle cx="257.17" cy="93.90" r="1.3" fill="#ff0000"/>
<path d="M258.08 90.20H261.58" stroke="#ff0000" stroke-width="0.9"/>
<circle cx="259.83" cy="90.20" r="1.3" fill="#ff0000"/>
<path d="M260.73 92.00H264.23" stroke="#ff0000" stroke-width="0.9"/>
<circle cx="262.48" cy="92.00" r="1.3" fill="#ff0000"/>
<path d="M263.39 93.00H266.89" stroke="#ff0000" stroke-width="0.9"/>
<circle cx="265.14" cy="93.00" r="1.3" fill="#ff0000"/>
<path d="M266.04 93.00H269.54" stroke="#ff0000" stroke-width="0.9"/>
<circle cx="267.79" cy="93.00" r="1.3" fill="#ff0000"/>
<path d="M268.70 91.10H272.20" stroke="#ff0000" stroke-width="0.9"/>
<circle cx="270.45" cy="91.10" r="1.3" fill="#ff0000"/>
<path d="M271.35 89.60H274.85" stroke="#ff0000" stroke-width="0.9"/>
<circle cx="273.10" cy="89.60" r="1.3" fill="#ff0000"/>
<path d="M274.01 91.50H277.51" stroke="#ff0000" stroke-width="0.9"/>
<circle cx="275.76" cy="91.50" r="1.3" fill="#ff0000"/>
<path d="M276.66 92.40H280.16" stroke="#ff0000" stroke-width="0.9"/>
<circle cx="278.41" cy="92.40" r="1.3" fill="#ff0000"/>
<path d="M279.32 90.60H282.82" stroke="#ff0000" stroke-width="0.9"/>
<circle cx="281.07" cy="90.60" r="1.3" fill="#ff0000"/>
<path d="M281.97 90.60H285.47" stroke="#ff0000" stroke-width="0.9"/>
<circle cx="283.72" cy="90.60" r="1.3" fill="#ff0000"/>
<path d="M284.63 90.90H288.13" stroke="#ff0000" stroke-width="0.9"/>
<circle cx="286.38" cy="90.90" r="1.3" fill="#ff0000"/>
<path d="M287.28 92.40H290.78" stroke="#ff0000" stroke-width="0.9"/>
<circle cx="289.03" cy="92.40" r="1.3" fill="#ff0000"/>
<path d="M289.94 91.30H293.44" stroke="#ff0000" stroke-width="0.9"/>
<circle cx="291.69" cy="91.30" r="1.3" fill="#ff0000"/>
<path d="M292.59 90.60H296.09" stroke="#ff0000" stroke-width="0.9"/>
<circle cx="294.34" cy="90.60" r="1.3" fill="#ff0000"/>
<path d="M295.25 90.20H298.75" stroke="#ff0000" stroke-width="0.9"/>
<circle cx="297.00" cy="90.20" r="1.3" fill="#ff0000"/>
<path d="M297.90 90.60H301.40" stroke="#ff0000" stroke-width="0.9"/>
<circle cx="299.65" cy="90.60" r="1.3" fill="#ff0000"/>
<path d="M300.56 89.80H304.06" stroke="#ff0000" stroke-width="0.9"/>
<circle cx="302.31" cy="89.80" r="1.3" fill="#ff0000"/>
<path d="M303.21 89.80H306.71" stroke="#ff0000" stroke-width="0.9"/>
<circle cx="304.96" cy="89.80" r="1.3" fill="#ff0000"/>
<path d="M305.87 90.60H309.37" stroke="#ff0000" stroke-width="0.9"/>
<circle cx="307.62" cy="90.60" r="1.3" fill="#ff0000"/>
<path d="M308.52 90.20H312.02" stroke="#ff0000" stroke-width="0.9"/>
<circle cx="310.27" cy="90.20" r="1.3" fill="#ff0000"/>
<!-- legend -->
<circle cx="222.7" cy="158.6" r="1.5" fill="#ff0000"/>
<text x="229.8" y="162.8" font-size="12.6" fill="#ff0000" textLength="48.8" lengthAdjust="spacingAndGlyphs">electon</text>
<rect x="221.1" y="205.3" width="3.6" height="3.2" fill="none" stroke="#0000ff" stroke-width="0.9"/>
<text x="228.8" y="211.2" font-size="12.6" fill="#0000ff" textLength="31.3" lengthAdjust="spacingAndGlyphs">pion</text>
</g>
</svg>
</body></html>
